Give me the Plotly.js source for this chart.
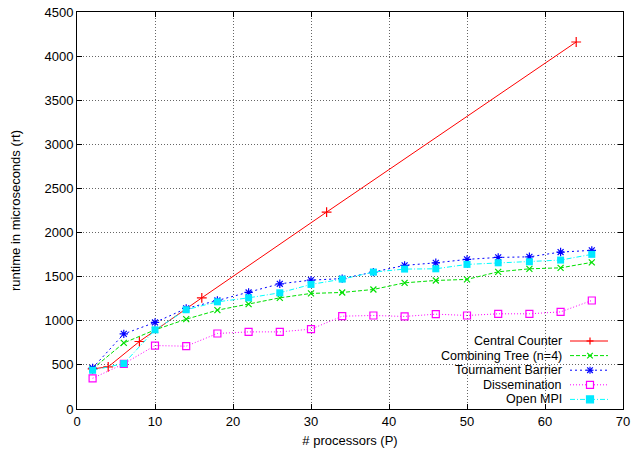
<!DOCTYPE html>
<html>
<head>
<meta charset="utf-8">
<script src="https://cdn.plot.ly/plotly-3.0.1.min.js"></script>
<style>html,body{margin:0;padding:0;background:#fff;}#chart{width:634px;height:449px;}</style>
</head>
<body>
<div id="chart"></div>
<script>
// Data
const counterP = [2, 4, 8, 16, 32, 64];
const counterRT = [455, 478, 765, 1260, 2232, 4160];

const procs = [2, 6, 10, 14, 18, 22, 26, 30, 34, 38, 42, 46, 50, 54, 58, 62, 66];
const treeRT = [455, 749, 897, 1018, 1120, 1188, 1260, 1310, 1321, 1355, 1430, 1457, 1469, 1555, 1589, 1600, 1662];
const tournamentRT = [465, 851, 981, 1140, 1230, 1321, 1419, 1461, 1478, 1552, 1628, 1657, 1696, 1718, 1725, 1779, 1798];
const disseminationRT = [348, 512, 719, 712, 856, 874, 874, 905, 1052, 1060, 1049, 1075, 1060, 1079, 1079, 1101, 1230];
const openMpiRT = [439, 515, 897, 1125, 1215, 1260, 1317, 1412, 1472, 1552, 1586, 1589, 1639, 1657, 1669, 1688, 1753];

const seriesNames = ['Central Counter', 'Combining Tree (n=4)', 'Tournament Barrier', 'Dissemination', 'Open MPI'];
const seriesColors = ['#ff0000', '#00e000', '#0000ff', '#ff00ff', '#00e8ff'];
const seriesDash = ['solid', '4px,2px', '2px,3px', '1px,2px', '5px,2px,1px,2px'];
const seriesKeys = ['cross', 'x', 'asterisk', 'square-open', 'square'];

const traces = [
  {x: counterP, y: counterRT, name: seriesNames[0], mode: 'lines+markers', showlegend: false,
   line: {color: seriesColors[0], width: 1, dash: seriesDash[0]},
   marker: {symbol: 'cross-thin-open', size: 7, line: {color: seriesColors[0], width: 1.2}, color: seriesColors[0]}},
  {x: procs, y: treeRT, name: seriesNames[1], mode: 'lines+markers', showlegend: false,
   line: {color: seriesColors[1], width: 1, dash: seriesDash[1]},
   marker: {symbol: 'x-thin-open', size: 6, line: {color: seriesColors[1], width: 1.2}, color: seriesColors[1]}},
  {x: procs, y: tournamentRT, name: seriesNames[2], mode: 'lines+markers', showlegend: false,
   line: {color: seriesColors[2], width: 1, dash: seriesDash[2]},
   marker: {symbol: 'asterisk-open', size: 7, line: {color: seriesColors[2], width: 1.2}, color: seriesColors[2]}},
  {x: procs, y: disseminationRT, name: seriesNames[3], mode: 'lines+markers', showlegend: false,
   line: {color: seriesColors[3], width: 1, dash: seriesDash[3]},
   marker: {symbol: 'square-open', size: 7, line: {color: seriesColors[3], width: 1.2}, color: seriesColors[3]}},
  {x: procs, y: openMpiRT, name: seriesNames[4], mode: 'lines+markers', showlegend: false,
   line: {color: '#00ffff', width: 1, dash: seriesDash[4]},
   marker: {symbol: 'square', size: 7, color: seriesColors[4], line: {width: 0}}}
];

const axisFont = {family: 'Liberation Sans, Arial, sans-serif', size: 13, color: '#000'};

// Plot-area geometry in pixels (used to place the hand-drawn gnuplot-style legend)
const W = 634, H = 449, ML = 77, MR = 11, MT = 12, MB = 40;
const PW = W - ML - MR, PH = H - MT - MB;
const px2x = p => (p - ML) / PW;
const py2y = p => (H - MB - p) / PH;

// Legend layout (gnuplot style: right-aligned text, key sample on the right)
const legTextRight = 563, legLineX0 = 570, legLineX1 = 608, legTop = 341, legStep = 14.6, keyHalf = 3.5;

const shapes = [];
const annotations = [];
function seg(x0, y0, x1, y1, color, dash) {
  shapes.push({type: 'line', xref: 'paper', yref: 'paper',
    x0: px2x(x0), y0: py2y(y0), x1: px2x(x1), y1: py2y(y1),
    line: {color: color, width: dash ? 1 : 1.2, dash: dash || 'solid'}});
}
seriesNames.forEach((name, i) => {
  const cy = legTop + i * legStep;
  const cx = (legLineX0 + legLineX1) / 2 + 1;
  const c = seriesColors[i];
  annotations.push({xref: 'paper', yref: 'paper', x: px2x(legTextRight), y: py2y(cy),
    xanchor: 'right', yanchor: 'middle', showarrow: false, text: name, borderpad: 0,
    font: {family: axisFont.family, size: 12.5, color: '#000'}});
  seg(legLineX0, cy, legLineX1, cy, i === 4 ? '#00ffff' : c, seriesDash[i]);
  const h = keyHalf, k = seriesKeys[i];
  if (k === 'cross' || k === 'asterisk') {
    seg(cx - h, cy, cx + h, cy, c); seg(cx, cy - h, cx, cy + h, c);
  }
  if (k === 'x' || k === 'asterisk') {
    seg(cx - h * 0.8, cy - h * 0.8, cx + h * 0.8, cy + h * 0.8, c);
    seg(cx - h * 0.8, cy + h * 0.8, cx + h * 0.8, cy - h * 0.8, c);
  }
  if (k === 'square-open' || k === 'square') {
    shapes.push({type: 'rect', xref: 'paper', yref: 'paper',
      x0: px2x(cx - h), x1: px2x(cx + h), y0: py2y(cy + h), y1: py2y(cy - h),
      line: {color: c, width: 1.2}, fillcolor: k === 'square' ? c : '#ffffff'});
  }
});

const layout = {
  width: W, height: H,
  margin: {l: ML, r: MR, t: MT, b: MB},
  paper_bgcolor: '#fff', plot_bgcolor: '#fff',
  font: axisFont,
  showlegend: false,
  shapes: shapes,
  annotations: annotations,
  xaxis: {
    range: [0, 70], dtick: 10, tick0: 0,
    showline: true, linecolor: '#000', linewidth: 1, mirror: 'ticks',
    ticks: 'inside', ticklen: 5, tickcolor: '#000',
    showgrid: true, gridcolor: '#666', griddash: '1px,2px', gridwidth: 1,
    zeroline: false, tickfont: axisFont,
    title: {text: '# processors (P)', font: axisFont, standoff: 8}
  },
  yaxis: {
    range: [0, 4500], dtick: 500, tick0: 0,
    showline: true, linecolor: '#000', linewidth: 1, mirror: 'ticks',
    ticks: 'inside', ticklen: 5, tickcolor: '#000',
    showgrid: true, gridcolor: '#666', griddash: '1px,2px', gridwidth: 1,
    zeroline: false, tickfont: axisFont,
    title: {text: 'runtime in microseconds (rt)', font: axisFont, standoff: 20}
  }
};

Plotly.newPlot('chart', traces, layout, {displayModeBar: false, staticPlot: true});
</script>
</body>
</html>
